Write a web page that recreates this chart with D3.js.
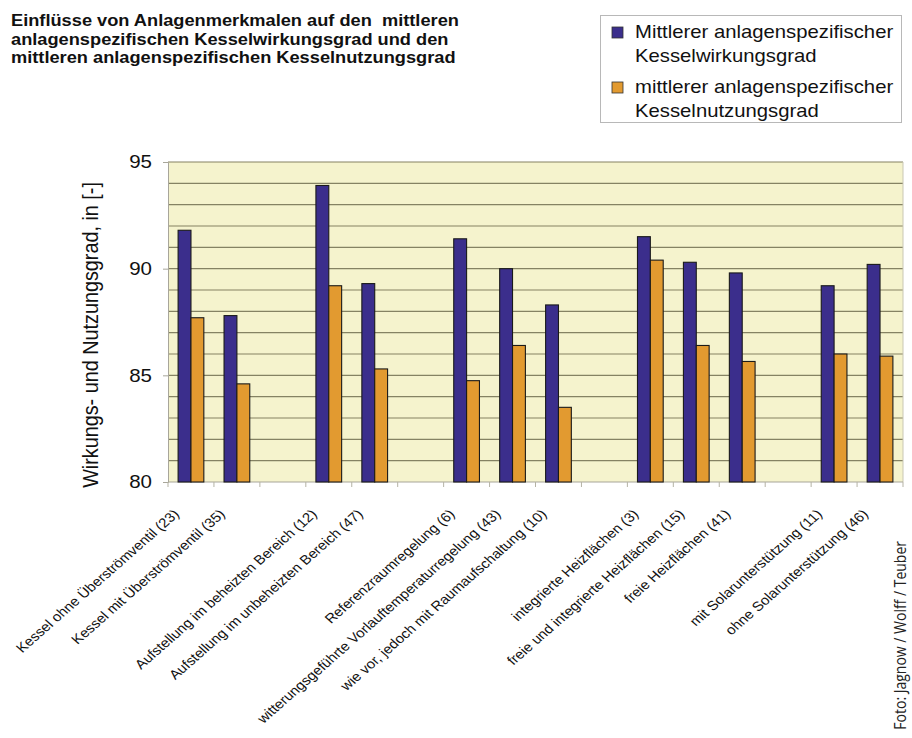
<!DOCTYPE html>
<html>
<head>
<meta charset="utf-8">
<script src="https://cdn.jsdelivr.net/npm/d3@7"></script>
<style>
  html, body { margin: 0; padding: 0; background: #ffffff; }
  svg { display: block; }
  text { white-space: pre; }
</style>
</head>
<body>
<svg id="chart" width="912" height="738"></svg>
<script>
// Categories along the x axis; empty strings are the spacer slots between groups
const categories = [
  "Kessel ohne Überströmventil (23)",
  "Kessel mit Überströmventil (35)",
  "",
  "Aufstellung im beheizten Bereich (12)",
  "Aufstellung im unbeheizten Bereich (47)",
  "",
  "Referenzraumregelung (6)",
  "witterungsgeführte Vorlauftemperaturregelung (43)",
  "wie vor, jedoch mit Raumaufschaltung (10)",
  "",
  "integrierte Heizflächen (3)",
  "freie und integrierte Heizflächen (15)",
  "freie Heizflächen (41)",
  "",
  "mit Solarunterstützung (11)",
  "ohne Solarunterstützung (46)"
];

// Mean boiler efficiency (Kesselwirkungsgrad), null for spacer slots
const wirkungsgrad = [91.8, 87.8, null, 93.9, 89.3, null, 91.4, 90.0, 88.3, null, 91.5, 90.3, 89.8, null, 89.2, 90.2];
// Mean boiler utilisation ratio (Kesselnutzungsgrad)
const nutzungsgrad = [87.7, 84.6, null, 89.2, 85.3, null, 84.75, 86.4, 83.5, null, 90.4, 86.4, 85.65, null, 86.0, 85.9];

const yTicks = [80, 85, 90, 95];
const seriesNames = [
  ["Mittlerer anlagenspezifischer", "Kesselwirkungsgrad"],
  ["mittlerer anlagenspezifischer", "Kesselnutzungsgrad"]
];
const titleLines = [
  "Einflüsse von Anlagenmerkmalen auf den  mittleren",
  "anlagenspezifischen Kesselwirkungsgrad und den",
  "mittleren anlagenspezifischen Kesselnutzungsgrad"
];
const yAxisTitle = "Wirkungs- und Nutzungsgrad, in [-]";
const credit = "Foto: Jagnow / Wolff / Teuber";

const colors = ["#3b2e8c", "#e29a30"];
const font = "'Liberation Sans', Arial, sans-serif";
// The whole graphic is set slightly wide: glyphs are widened horizontally
const stretch = 1.14;

const svg = d3.select("#chart");
const plot = { left: 168, right: 903, top: 162, bottom: 482 };

const x = d3.scaleBand()
  .domain(d3.range(categories.length))
  .range([plot.left, plot.right])
  .paddingInner(0).paddingOuter(0);

const y = d3.scaleLinear().domain([80, 95]).range([plot.bottom, plot.top]);

// Title
svg.append("g").selectAll("text")
  .data(titleLines).join("text")
  .attr("transform", (d, i) => `translate(11,${26 + i * 18.5}) scale(${stretch},1)`)
  .attr("font-family", font)
  .attr("font-weight", "bold")
  .attr("font-size", 16)
  .attr("fill", "#111")
  .text(d => d);

// Plot background
svg.append("rect")
  .attr("x", plot.left).attr("y", plot.top)
  .attr("width", plot.right - plot.left).attr("height", plot.bottom - plot.top)
  .attr("fill", "#f5f3cd");

// Horizontal gridlines at every unit
svg.append("g").selectAll("line")
  .data(d3.range(81, 96)).join("line")
  .attr("x1", plot.left).attr("x2", plot.right)
  .attr("y1", d => y(d)).attr("y2", d => y(d))
  .attr("stroke", "#858263").attr("stroke-width", 1.2);

// Plot frame on the right
svg.append("line")
  .attr("x1", plot.right).attr("x2", plot.right)
  .attr("y1", plot.top).attr("y2", plot.bottom)
  .attr("stroke", "#c9c7b4").attr("stroke-width", 1);

// Y axis
const yAxis = svg.append("g")
  .attr("transform", `translate(${plot.left},0)`)
  .call(d3.axisLeft(y).tickValues(yTicks).tickSize(5));
yAxis.select(".domain").attr("stroke", "#a8a69a");
yAxis.selectAll(".tick line").attr("stroke", "#a8a69a");
yAxis.selectAll(".tick text")
  .attr("x", 0)
  .attr("transform", `translate(-16,0) scale(${stretch},1)`)
  .attr("font-family", font).attr("font-size", 18).attr("fill", "#111");

// Y axis title
svg.append("text")
  .attr("transform", `translate(98,335) scale(${stretch},1) rotate(-90)`)
  .attr("text-anchor", "middle")
  .attr("font-family", font).attr("font-size", 19.8).attr("fill", "#111")
  .text(yAxisTitle);

// X axis with ticks at slot boundaries
const xAxis = svg.append("g").attr("transform", `translate(0,${plot.bottom})`);
xAxis.append("line")
  .attr("x1", plot.left).attr("x2", plot.right)
  .attr("stroke", "#a8a69a").attr("stroke-width", 1.2);
xAxis.selectAll("line.tick")
  .data(d3.range(categories.length + 1)).join("line")
  .attr("class", "tick")
  .attr("x1", i => plot.left + i * x.bandwidth())
  .attr("x2", i => plot.left + i * x.bandwidth())
  .attr("y1", 0).attr("y2", 5)
  .attr("stroke", "#b5b3a5");

// Bars
const barW = x.bandwidth() * 0.28;
const series = [wirkungsgrad, nutzungsgrad];
series.forEach((vals, s) => {
  svg.append("g").selectAll("rect")
    .data(vals.map((v, i) => ({ v, i })).filter(d => d.v !== null))
    .join("rect")
    .attr("x", d => x(d.i) + x.bandwidth() / 2 - barW + s * barW)
    .attr("y", d => y(d.v))
    .attr("width", barW)
    .attr("height", d => y(80) - y(d.v))
    .attr("fill", colors[s])
    .attr("stroke", "#1a1a1a")
    .attr("stroke-width", 1.1);
});

// Category labels, rotated
svg.append("g").selectAll("text")
  .data(categories.map((c, i) => ({ c, i })).filter(d => d.c))
  .join("text")
  .attr("transform", d => `translate(${x(d.i) + x.bandwidth() / 2 - 11},${plot.bottom + 33}) scale(${stretch},1) rotate(-45)`)
  .attr("text-anchor", "end")
  .attr("font-family", font).attr("font-size", 13.2).attr("fill", "#111")
  .text(d => d.c);

// Legend
const legend = svg.append("g");
legend.append("rect")
  .attr("x", 600.5).attr("y", 15.5).attr("width", 301).attr("height", 107)
  .attr("fill", "#fff").attr("stroke", "#b8b8b8").attr("stroke-width", 1);
seriesNames.forEach((lines, s) => {
  const top = 27 + s * 55;
  legend.append("rect")
    .attr("x", 612).attr("y", top).attr("width", 11).attr("height", 11)
    .attr("fill", colors[s]).attr("stroke", "#333").attr("stroke-width", 0.8);
  lines.forEach((t, j) => {
    legend.append("text")
      .attr("transform", `translate(635,${top + 11 + j * 23.5}) scale(${stretch},1)`)
      .attr("font-family", font).attr("font-size", 17.8).attr("fill", "#111")
      .text(t);
  });
});

// Photo credit along the right edge
svg.append("text")
  .attr("transform", `translate(906,541) scale(${stretch},1) rotate(-90)`)
  .attr("text-anchor", "end")
  .attr("font-family", "'Open Sans', 'DejaVu Sans', sans-serif")
  .attr("font-size", 14).attr("fill", "#222")
  .text(credit);
</script>
</body>
</html>
